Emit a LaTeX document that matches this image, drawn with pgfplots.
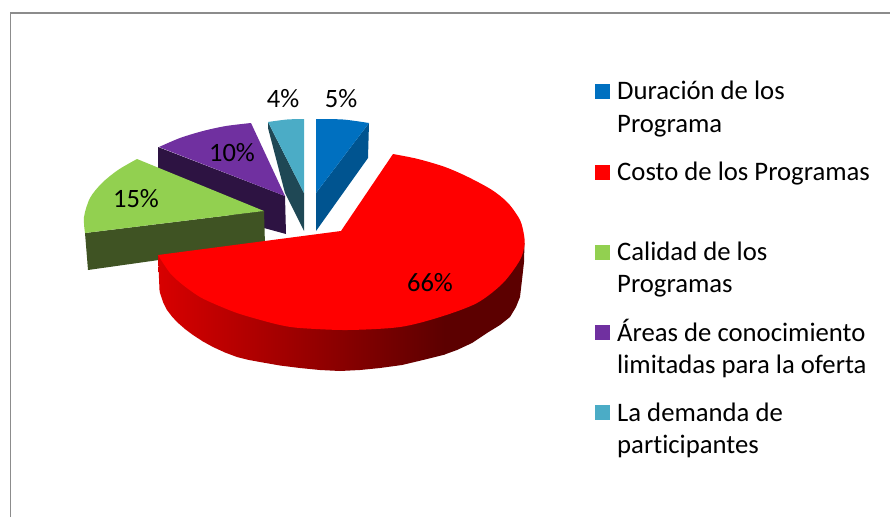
\documentclass[border=0pt]{standalone}
\usepackage{pgfplots}
\pgfplotsset{compat=1.18}
\usepackage{fontspec}
\setmainfont[Ligatures=NoCommon]{Carlito}
\definecolor{cBlue}{HTML}{0070C0}
\definecolor{cBlueD}{HTML}{005490}
\definecolor{cRed}{HTML}{FF0000}
\definecolor{cRedL}{HTML}{D80000}
\definecolor{cRedD}{HTML}{5C0000}
\definecolor{cGreen}{HTML}{92D050}
\definecolor{cGreenD}{HTML}{3F5323}
\definecolor{cPurple}{HTML}{7030A0}
\definecolor{cPurpleD}{HTML}{2D1342}
\definecolor{cTeal}{HTML}{4BACC6}
\definecolor{cTealD}{HTML}{1F4855}
\definecolor{cFrame}{HTML}{8C8C8C}
\tikzset{lbl/.style={font=\fontsize{26.5}{30}\selectfont,text=black,inner sep=0pt},
         leg/.style={font=\fontsize{26.7}{30}\selectfont,text=black,inner sep=0pt,anchor=base west}}
\begin{document}
\begin{tikzpicture}[x=1pt,y=1pt]
\useasboundingbox (0,0) rectangle (890,517);
\begin{axis}[
  at={(0,0)},anchor=south west,
  width=890pt,height=517pt,scale only axis,
  xmin=0,xmax=890,ymin=0,ymax=517,y dir=reverse,
  hide axis,clip=false,
]
% frame
\addplot[cFrame,line width=1.8pt,no markers] coordinates {(10.5,517) (10.5,13) (890,13)};
% purple
\addplot[draw=none,fill=cPurpleD] coordinates {(158,147) (285,196) (286,234) (264,228) (158,190)} -- cycle;
\addplot[draw=none,fill=cPurple,smooth] coordinates {(251,123) (226,126) (203,131) (180,138) (159,147)} -- (285,196) -- cycle;
% teal
\addplot[draw=none,fill=cTealD] coordinates {(268,122) (304,193) (304,231) (285,193) (268,128)} -- cycle;
\addplot[draw=none,fill=cTeal,smooth] coordinates {(304,119) (287,119.5) (268,122)} -- (304,193) -- cycle;
% blue
\addplot[draw=none,fill=cBlueD] coordinates {(369,123) (368,158) (316,231) (316,193)} -- cycle;
\addplot[draw=none,fill=cBlue,smooth] coordinates {(316,119) (343,119.5) (369,123)} -- (316,193) -- cycle;
% green
\addplot[draw=none,fill=cGreenD] coordinates {(85,233) (264,211) (265,245) (88,270)} -- cycle;
\addplot[draw=none,fill=cGreen,smooth] coordinates {(137,159) (118,170) (102,183) (90,198) (84,217) (85,233)} -- (264,211) -- cycle;
% red side, shaded part and dark part
\addplot[draw=none,left color=cRedL,right color=cRedD] coordinates {
 (158,255) (159.5,290) (160,293) (163,302) (167,310) (172,316.5) (177,322) (185,329) (193,335) (203,341.5) (213,347) (225,352.5) (237,357) (248,359.8) (260,362) (280,365.5) (300,368) (320,370) (340,371) (360,370) (380,368) (402,365) (423,360) (445,354.5) (445,300)} -- cycle;
\addplot[draw=none,fill=cRedD] coordinates {
 (444.5,300) (444.5,354.5) (457,350) (472,343) (487,333) (500,325) (510,317) (516,307) (520,297) (522,280) (524,262) (524.5,243)} -- cycle;
% red top
\addplot[draw=none,fill=cRed,smooth] coordinates {(393,154) (418,159) (445,167) (468,177) (492,190) (508,203) (520,220) (524,235) (524.5,245) (520,260) (503,283) (477,303) (440,317) (400,327) (347,330) (300,328) (280,325) (257,319) (237,313) (217,305) (200,297) (183,285) (170,273) (158,255)} -- (341,231) -- cycle;
% labels
\node[lbl] at (axis cs:430,283) {66\%};
\node[lbl] at (axis cs:136,199) {15\%};
\node[lbl] at (axis cs:232,153) {10\%};
\node[lbl] at (axis cs:283,99) {4\%};
\node[lbl] at (axis cs:341,99) {5\%};
% legend swatches
\addplot[draw=none,fill=cBlue] coordinates {(595,84) (610,84) (610,99) (595,99)} -- cycle;
\addplot[draw=none,fill=cRed] coordinates {(595,165) (610,165) (610,180) (595,180)} -- cycle;
\addplot[draw=none,fill=cGreen] coordinates {(595,245) (610,245) (610,260) (595,260)} -- cycle;
\addplot[draw=none,fill=cPurple] coordinates {(595,325) (610,325) (610,340) (595,340)} -- cycle;
\addplot[draw=none,fill=cTeal] coordinates {(595,405) (610,405) (610,420) (595,420)} -- cycle;
% legend text
\node[leg] at (axis cs:617,99) {Duración de los};
\node[leg] at (axis cs:617,132) {Programa};
\node[leg] at (axis cs:617,180) {Costo de los Programas};
\node[leg] at (axis cs:617,260) {Calidad de los};
\node[leg] at (axis cs:617,292) {Programas};
\node[leg] at (axis cs:617,341) {Áreas de conocimiento};
\node[leg] at (axis cs:617,373) {limitadas para la oferta};
\node[leg] at (axis cs:617,421) {La demanda de};
\node[leg] at (axis cs:617,453) {participantes};
\end{axis}
\end{tikzpicture}
\end{document}
